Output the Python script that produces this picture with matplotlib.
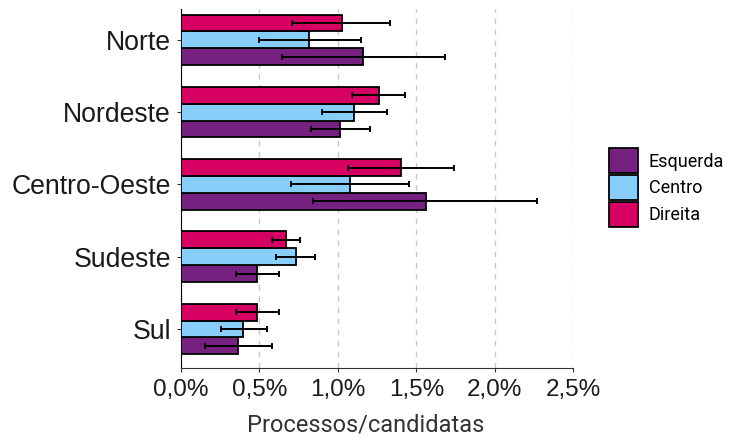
import numpy as np
import matplotlib.pyplot as plt
from matplotlib.patches import Patch
from matplotlib.ticker import FuncFormatter

plt.rcParams['font.family'] = ['Roboto', 'DejaVu Sans']

regioes = ['Norte', 'Nordeste', 'Centro-Oeste', 'Sudeste', 'Sul']
espectros = ['Esquerda', 'Centro', 'Direita']
cores = {'Esquerda': '#76207F', 'Centro': '#87CEFA', 'Direita': '#D60062'}

# processos / candidatas (%), com limites inferior e superior do intervalo
esquerda = [1.16, 1.015, 1.56, 0.488, 0.367]
esquerda_inf = [0.643, 0.83, 0.84, 0.352, 0.153]
esquerda_sup = [1.683, 1.205, 2.27, 0.624, 0.58]

centro = [0.82, 1.106, 1.078, 0.732, 0.399]
centro_inf = [0.50, 0.90, 0.703, 0.609, 0.257]
centro_sup = [1.146, 1.312, 1.452, 0.853, 0.552]

direita = [1.025, 1.263, 1.403, 0.671, 0.488]
direita_inf = [0.71, 1.091, 1.063, 0.581, 0.352]
direita_sup = [1.335, 1.427, 1.743, 0.76, 0.624]

dados = {
    'Esquerda': (esquerda, esquerda_inf, esquerda_sup),
    'Centro': (centro, centro_inf, centro_sup),
    'Direita': (direita, direita_inf, direita_sup),
}

fig = plt.figure(figsize=(7.36, 4.41), dpi=100)
ax = fig.add_axes([0.2455, 0.1655, 0.5335, 0.8145])

y = np.arange(len(regioes))
h = 0.7 / 3
# Direita em cima, Esquerda em baixo (eixo invertido)
deslocamento = {'Direita': -h, 'Centro': 0, 'Esquerda': h}

for esp in espectros:
    val, inf, sup = dados[esp]
    val = np.array(val)
    erro = [val - np.array(inf), np.array(sup) - val]
    pos = y + deslocamento[esp]
    ax.barh(pos, val, height=h, color=cores[esp], edgecolor='black',
            linewidth=1.3, zorder=3)
    ax.errorbar(val, pos, xerr=erro, fmt='none', ecolor='black',
                elinewidth=1.4, capsize=2.5, capthick=1.4, zorder=4)

ax.set_xlim(0, 2.5)
ax.set_ylim(4.54, -0.43)
ax.set_yticks(y)
ax.set_yticklabels(regioes, fontsize=19.2, color='#1a1a1a', family='Liberation Sans')
ax.set_xticks(np.arange(0, 2.51, 0.5))
ax.xaxis.set_major_formatter(FuncFormatter(lambda v, p: f'{v:.1f}%'.replace('.', ',')))
for t in ax.get_xticklabels():
    t.set_family('Liberation Sans')
ax.tick_params(axis='x', labelsize=17.5, labelcolor='#1a1a1a', length=3, color='#333333', pad=5)
ax.tick_params(axis='y', length=3, color='#333333', pad=4)
ax.set_xlabel('Processos/candidatas', fontsize=17, color='#333333')
ax.xaxis.set_label_coords(0.472, -0.128)

ax.grid(axis='x', color='#c8c8c8', linestyle=(0, (4, 4)), linewidth=1, zorder=0)
for s in ['top', 'right']:
    ax.spines[s].set_visible(False)
ax.spines['left'].set_color('black')
ax.spines['bottom'].set_color('#333333')

handles = [Patch(facecolor=cores[e], edgecolor='black', linewidth=1.3, label=e) for e in espectros]
fig.legend(handles=handles, loc='center left', bbox_to_anchor=(0.818, 0.575),
           frameon=False, fontsize=13, handlelength=1.6, handleheight=1.75,
           labelspacing=0.1, handletextpad=0.6, borderaxespad=0)

fig.savefig('out.png', dpi=100)
